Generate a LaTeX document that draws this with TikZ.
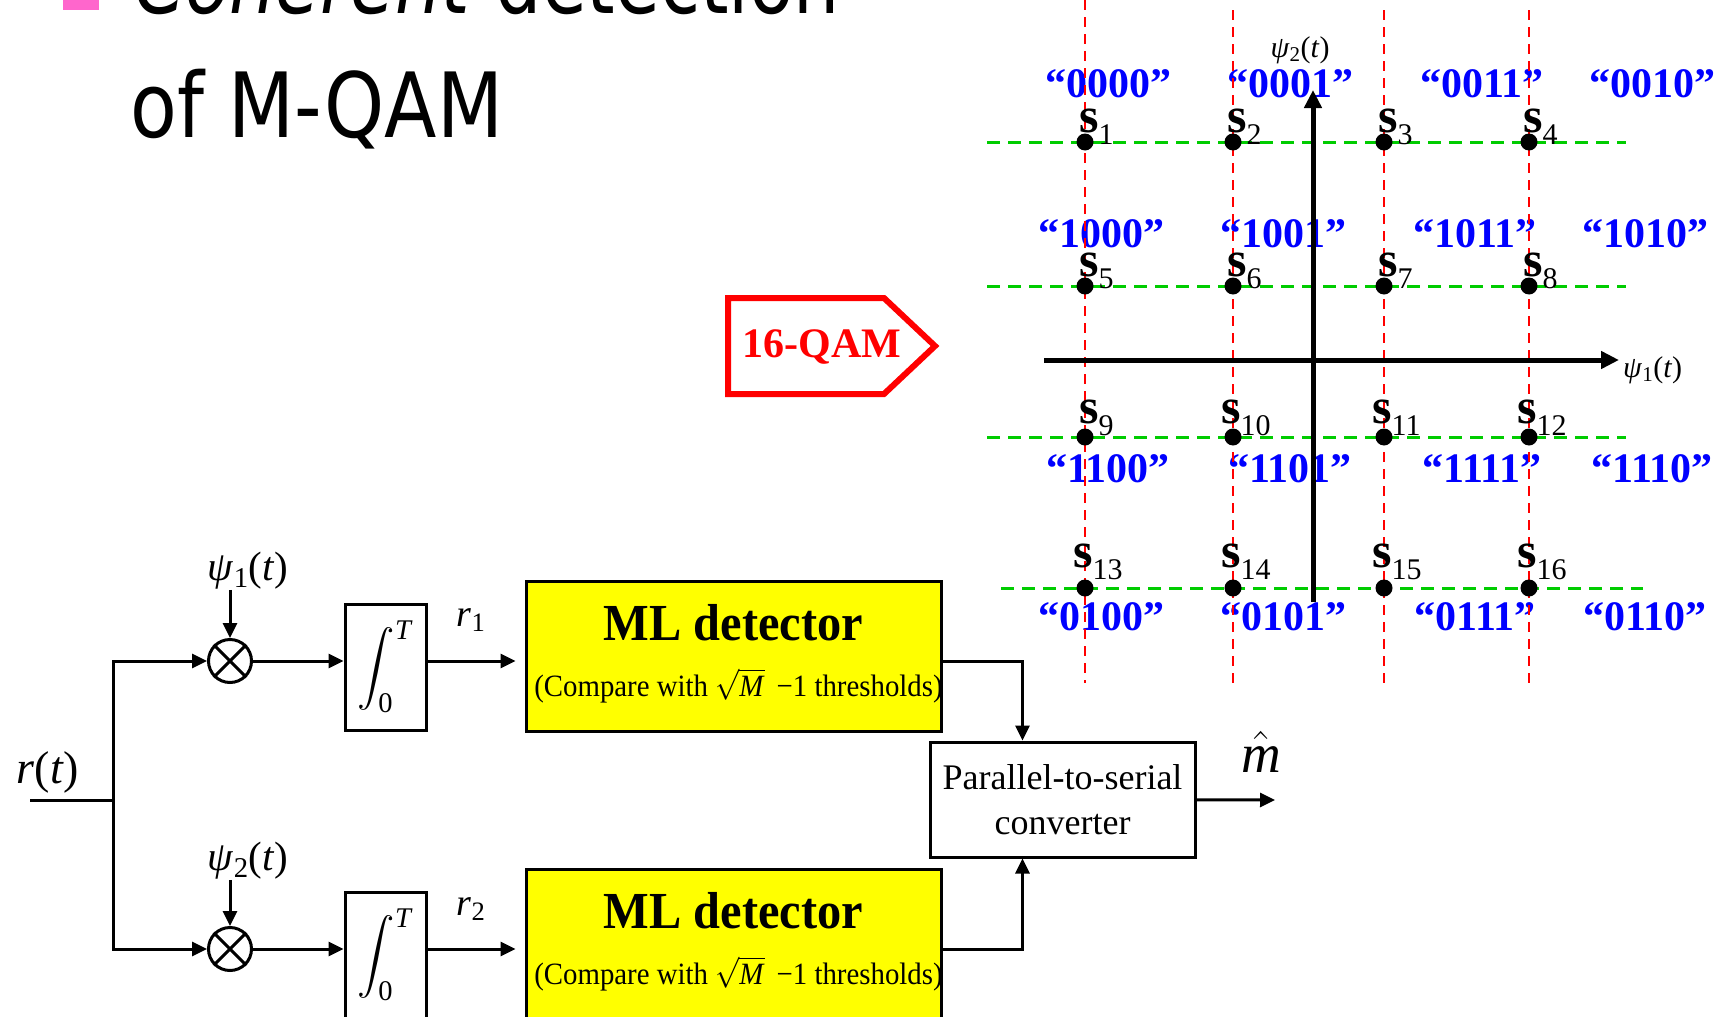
\RequirePackage{fix-cm}
\documentclass[tikz,border=0pt]{standalone}
\usepackage{exscale}
\usepackage{fontspec}
\setmainfont{Liberation Serif}
\newfontfamily\titlefont{DejaVu Sans}
\usetikzlibrary{arrows.meta,positioning,calc}

\definecolor{qamblue}{RGB}{0,0,255}
\definecolor{gridred}{RGB}{255,0,0}
\definecolor{gridgreen}{RGB}{0,204,0}
\definecolor{bulletpink}{RGB}{255,102,204}
\definecolor{mlyellow}{RGB}{255,255,0}

\newcommand{\pxsize}[1]{\fontsize{#1}{#1}\selectfont}
\newcommand{\qamsym}[1]{\textbf{s}\raisebox{-12pt}{\pxsize{30}\mdseries #1}}
\newcommand{\intT}{\scalebox{1.5}{\pxsize{24.88}$\displaystyle\int_{\mbox{\pxsize{19}0}}^{\mbox{\pxsize{19}\textit{T}}}$}}

\tikzset{
	block/.style={draw, line width=3pt, inner sep=0pt, align=center},
	mlbox/.style={block, fill=mlyellow, minimum width=415pt, minimum height=150pt},
	intbox/.style={block, minimum width=81pt, minimum height=126pt},
	mixer/.style={draw, circle, line width=3pt, minimum size=43pt, inner sep=0pt},
	sig/.style={-{Triangle[length=15pt,width=14pt]}, line width=3pt},
	lbl/.style={inner sep=0pt},
	dot/.style={circle, fill, inner sep=0pt, minimum size=17pt},
	redgrid/.style={draw=gridred, line width=2pt, dash pattern=on 10pt off 7pt},
	greengrid/.style={draw=gridgreen, line width=3pt, dash pattern=on 13pt off 8pt},
	qamaxis/.style={line width=5pt, -{Triangle[length=18pt,width=17pt]}},
	bits/.style={text=qamblue, font=\pxsize{42}\bfseries, anchor=base, inner sep=0pt},
}

\begin{document}
\begin{tikzpicture}[x=1pt, y=-1pt]
	\useasboundingbox (0,0) rectangle (1722,1017);
	\clip (0,0) rectangle (1722,1017);

	% title
	\fill[bulletpink] (63,-5) rectangle (99,10);
	\node[lbl, anchor=base west] (title1) at (134,13) {\titlefont\pxsize{90}\scalebox{0.81}[1]{\textit{Coherent} detection}};
	\node[lbl, anchor=base west] (title2) at (130,137) {\titlefont\pxsize{90}\scalebox{0.85}[1]{of M-QAM}};

	% constellation
	\foreach \xx/\yy/\b [count=\n] in {1108/97/0000, 1290/97/0001, 1482/97/0011, 1652/97/0010,
		1101/247/1000, 1283/247/1001, 1475/247/1011, 1645/247/1010,
		1108/482/1100, 1290/482/1101, 1482/482/1111, 1652/482/1110,
		1101/630/0100, 1283/630/0101, 1475/630/0111, 1645/630/0110}
		\node[bits] (b\n) at (\xx,\yy) {“\b”};

	\draw[redgrid] (1085,0) -- (1085,683);
	\foreach \xx in {1233,1384,1529}
		\draw[redgrid] (\xx,10) -- (\xx,685);
	\foreach \yy in {142,286,437}
		\draw[greengrid] (987,\yy) -- (1626,\yy);
	\draw[greengrid] (1001,588) -- (1643,588);

	\coordinate (xfrom) at (1044,360);
	\coordinate (xto) at (1619,360);
	\coordinate (yfrom) at (1313,602);
	\coordinate (yto) at (1313,90);
	\draw[qamaxis] (xfrom) -- (xto);
	\draw[qamaxis] (yfrom) -- (yto);
	\node[lbl, anchor=west] (psiX) at ($(xto)+(4,10)$) {\pxsize{30}\textit{ψ}\textsubscript{1}(\textit{t})};
	\node[lbl] (psiY) at (1300,50) {\pxsize{30}\textit{ψ}\textsubscript{2}(\textit{t})};

	\foreach \yy/\dy [count=\r] in {142/10,286/10,437/14,588/21}{
		\foreach \xx [count=\c] in {1085,1233,1384,1529}{
			\pgfmathtruncatemacro{\k}{(\r-1)*4+\c}
			\pgfmathsetmacro{\dx}{\k>9 ? -12 : -6}
			\node[dot] (s\k) at (\xx,\yy) {};
			\node[lbl, anchor=base west] (sl\k) at ($(s\k)+(\dx,-\dy)$) {\pxsize{50}\qamsym{\k}};
		}
	}

	% 16-QAM tag
	\draw[gridred, line width=6pt, miter limit=4] (728,298) -- (884,298) -- (935,346) -- (884,394) -- (728,394) -- cycle;
	\node[lbl, text=gridred] (qam) at (822,347) {\pxsize{42}\bfseries 16-QAM};

	% receiver
	\coordinate (rin) at (30,800);
	\coordinate (split) at (113,800);
	\node[lbl] (rlabel) at (48,772) {\pxsize{46}\textit{r}(\textit{t})};

	\node[mixer] (mixA) at (230,661) {};
	\node[mixer] (mixB) at (230,949) {};
	\foreach \m in {mixA,mixB}
		\draw[line width=3pt] (\m.45) -- (\m.225) (\m.135) -- (\m.315);
	\node[lbl] (psiA) at (248,571) {\pxsize{41}\textit{ψ}\textsubscript{1}(\textit{t})};
	\node[lbl] (psiB) at (248,861) {\pxsize{41}\textit{ψ}\textsubscript{2}(\textit{t})};

	\node[intbox] (intA) at (385.5,667) {\intT};
	\node[intbox] (intB) at (385.5,955) {\intT};
	\node[lbl] (r1) at (471,620) {\pxsize{38}\textit{r}\textsubscript{1}};
	\node[lbl] (r2) at (471,909) {\pxsize{38}\textit{r}\textsubscript{2}};

	\node[mlbox] (mlA) at (733.5,656) {};
	\node[mlbox] (mlB) at (733.5,944) {};
	\foreach \m in {mlA,mlB}{
		\node[lbl, anchor=base] (\m head) at ($(\m.north)+(0,61)$) {\pxsize{52}\bfseries\scalebox{0.93}[1]{ML detector}};
		\node[lbl, anchor=base] (\m note) at ($(\m.north)+(5,117)$) {\pxsize{31}\scalebox{0.93}[1]{(Compare with $\sqrt{\mbox{\textit{M}}}$\, −1 thresholds)}};
	}

	\node[block, minimum width=265pt, minimum height=115pt, font=\fontsize{36}{45}\selectfont] (p2s) at (1062.5,799.5) {Parallel-to-serial\\converter};
	\coordinate (mout) at (1275,800);
	\node[lbl] (mhat) at (1261,752) {\pxsize{55}$\hat{\mbox{\textit{m}}}$};

	\draw[line width=3pt] (rin) -- (split);
	\draw[sig] (split) |- (mixA);
	\draw[sig] (split) |- (mixB);
	\draw[sig] (psiA.south -| mixA) -- (mixA);
	\draw[sig] (psiB.south -| mixB) -- (mixB);
	\draw[sig] (mixA) -- (mixA -| intA.west);
	\draw[sig] (mixB) -- (mixB -| intB.west);
	\draw[sig, shorten >=9pt] (mixA -| intA.east) -- (mixA -| mlA.west);
	\draw[sig, shorten >=9pt] (mixB -| intB.east) -- (mixB -| mlB.west);
	\draw[sig] (mixA -| mlA.east) -| ($(p2s.north)+(-40,0)$);
	\draw[sig] (mixB -| mlB.east) -| ($(p2s.south)+(-40,0)$);
	\draw[sig] (p2s) -- (mout);
\end{tikzpicture}
\end{document}
